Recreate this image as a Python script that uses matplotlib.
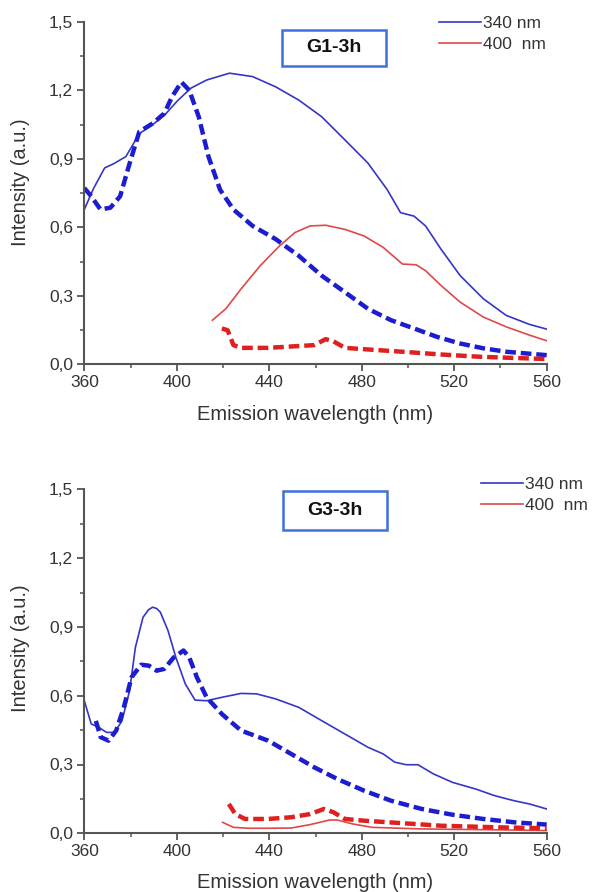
import matplotlib
matplotlib.use("Agg")
import matplotlib.pyplot as plt
from matplotlib.ticker import MultipleLocator, FuncFormatter
from matplotlib.patches import Rectangle

plt.rcParams['font.family'] = ['Liberation Sans', 'DejaVu Sans']

# ---------------- data: G1-3h ----------------
g1_340_x = [360, 364, 368.8, 373, 378, 383.8, 389.6, 394.6, 400.4, 406.2, 412.9, 422.8, 432.8, 442.8,
            452.8, 462.7, 472.7, 482.7, 491, 496.8, 502.6, 507.6, 514.3, 522.6, 532.6, 542.5, 552.5, 560]
g1_340_y = [0.678, 0.77, 0.86, 0.88, 0.91, 1.01, 1.05, 1.09, 1.155, 1.21, 1.245, 1.275, 1.26, 1.215,
            1.157, 1.084, 0.983, 0.881, 0.765, 0.664, 0.649, 0.606, 0.504, 0.388, 0.287, 0.214, 0.175, 0.154]

g1_340d_x = [360, 363, 367, 371.3, 375.5, 379.6, 383.8, 389.6, 394.6, 397.9, 402, 405.4, 409.5, 413.7,
             418.7, 424.5, 432.8, 442.8, 452.8, 462.7, 472.7, 482.7, 492.7, 502.6, 512.6, 522.6,
             532.6, 542.5, 560]
g1_340d_y = [0.772, 0.736, 0.678, 0.686, 0.736, 0.88, 1.019, 1.055, 1.099, 1.171, 1.236, 1.2, 1.084, 0.91,
             0.765, 0.678, 0.606, 0.548, 0.475, 0.388, 0.316, 0.243, 0.193, 0.157, 0.12, 0.091,
             0.07, 0.055, 0.04]

g1_400_x = [415.4, 421.2, 427.8, 436.1, 444.5, 451.1, 457.7, 464.4, 472.7, 481, 489.3, 497.6, 503.5,
            507.6, 514.3, 522.6, 532.6, 542.5, 552.5, 560]
g1_400_y = [0.193, 0.243, 0.33, 0.432, 0.519, 0.577, 0.606, 0.609, 0.591, 0.562, 0.512, 0.439, 0.436,
            0.41, 0.345, 0.272, 0.207, 0.164, 0.128, 0.103]

g1_400d_x = [419.5, 422, 424.5, 427.8, 439.5, 452.8, 459.4, 464.4, 467.7, 472.7, 482.7, 497.6, 514.3,
             531, 560]
g1_400d_y = [0.157, 0.149, 0.084, 0.072, 0.072, 0.08, 0.084, 0.11, 0.101, 0.072, 0.065, 0.055, 0.043,
             0.033, 0.023]

# ---------------- data: G3-3h ----------------
g3_340_x = [360, 363, 366.3, 369.6, 373, 376.3, 379.6, 382.1, 385.4, 387.8, 389.6, 391.3, 392.9, 396.2,
            399.6, 403.7, 407.9, 412.9, 419.5, 427.8, 434.5, 442.8, 452.8, 462.7, 472.7, 482.7, 489.3,
            494.3, 499.3, 504.3, 511, 519.3, 529.3, 537.5, 545.9, 552.5, 560]
g3_340_y = [0.578, 0.477, 0.462, 0.44, 0.44, 0.49, 0.622, 0.811, 0.942, 0.975, 0.986, 0.98, 0.964, 0.884,
            0.767, 0.651, 0.581, 0.578, 0.593, 0.61, 0.608, 0.586, 0.549, 0.491, 0.433, 0.375, 0.346,
            0.31, 0.299, 0.299, 0.259, 0.222, 0.193, 0.164, 0.142, 0.128, 0.106]

g3_340d_x = [365, 367.1, 370.5, 373.8, 377.1, 380.4, 384.6, 387.9, 391.3, 394.6, 398.7, 402.9, 405.4,
             408.7, 412.9, 419.5, 427.8, 439.5, 449.5, 459.4, 469.4, 481, 492.7, 506, 519.3, 532.6,
             545.9, 560]
g3_340d_y = [0.49, 0.419, 0.404, 0.448, 0.549, 0.68, 0.735, 0.731, 0.709, 0.717, 0.767, 0.797, 0.767,
             0.68, 0.593, 0.52, 0.448, 0.404, 0.346, 0.288, 0.237, 0.186, 0.142, 0.106, 0.081, 0.0625,
             0.048, 0.038]

g3_400_x = [419.8, 424.5, 431.2, 439.5, 449.5, 457.7, 466.1, 469.4, 476, 484.4, 506, 539, 560]
g3_400_y = [0.048, 0.026, 0.022, 0.022, 0.023, 0.038, 0.058, 0.058, 0.041, 0.026, 0.019, 0.015, 0.012]

g3_400d_x = [422.5, 425.3, 429.5, 439.5, 449.5, 457.7, 463.6, 467.7, 472.7, 481, 497.6, 514.3, 539, 560]
g3_400d_y = [0.128, 0.084, 0.0625, 0.0625, 0.07, 0.084, 0.106, 0.092, 0.0625, 0.055, 0.044, 0.033,
             0.026, 0.022]

legend_labels = ["340 nm", "400  nm"]
x_ticks = [360, 400, 440, 480, 520, 560]
y_ticks = [0.0, 0.3, 0.6, 0.9, 1.2, 1.5]

BLUE = "#3535c8"
BLUE_D = "#1c1cd0"
RED = "#e04848"
RED_D = "#e02020"
TXT = "#333333"

W, H = 602, 892
fig = plt.figure(figsize=(6.02, 8.92), dpi=100)

AX_L, AX_R = 84.3, 546.7
panels = [
    dict(top=21.8, bot=364.3, name="G1-3h",
         s=(g1_340_x, g1_340_y), sd=(g1_340d_x, g1_340d_y),
         r=(g1_400_x, g1_400_y), rd=(g1_400d_x, g1_400d_y),
         box=(282, 30, 386, 66), leg=(439, 16), xl=414, yl=182),
    dict(top=489.3, bot=833.3, name="G3-3h",
         s=(g3_340_x, g3_340_y), sd=(g3_340d_x, g3_340d_y),
         r=(g3_400_x, g3_400_y), rd=(g3_400d_x, g3_400d_y),
         box=(283, 491, 387, 530), leg=(481, 477), xl=882, yl=648),
]

fmt = FuncFormatter(lambda v, p: ("%.1f" % v).replace(".", ","))

for p in panels:
    ax = fig.add_axes([AX_L/W, 1 - p["bot"]/H, (AX_R-AX_L)/W, (p["bot"]-p["top"])/H])
    l1, = ax.plot(*p["s"], color=BLUE, lw=1.2, label=legend_labels[0])
    ax.plot(*p["sd"], color=BLUE_D, lw=3.2, ls=(0, (2.4, 1.1)))
    l2, = ax.plot(*p["r"], color=RED, lw=1.2, label=legend_labels[1])
    ax.plot(*p["rd"], color=RED_D, lw=3.2, ls=(0, (2.4, 1.1)))
    ax.set_xlim(360, 560)
    ax.set_ylim(0, 1.5)
    ax.set_xticks(x_ticks)
    ax.set_yticks(y_ticks)
    ax.xaxis.set_minor_locator(MultipleLocator(20))
    ax.yaxis.set_minor_locator(MultipleLocator(0.15))
    ax.yaxis.set_major_formatter(fmt)
    for s in ["top", "right"]:
        ax.spines[s].set_visible(False)
    for s in ["left", "bottom"]:
        ax.spines[s].set_linewidth(1.5)
        ax.spines[s].set_color("#555555")
    ax.tick_params(which="major", length=5, width=1.3, color="#555555", labelsize=12.5,
                   labelcolor=TXT, pad=3)
    ax.tick_params(which="minor", length=3, width=1.1, color="#555555")
    fig.text(21/W, 1 - p["yl"]/H, "Intensity (a.u.)", rotation=90, ha="center", va="center",
             fontsize=14.5, color=TXT)
    fig.text((AX_L + AX_R)/2/W, 1 - p["xl"]/H, "Emission wavelength (nm)", ha="center", va="center",
             fontsize=14.5, color=TXT)
    x0, y0, x1, y1 = p["box"]
    fig.patches.append(Rectangle((x0/W, 1 - y1/H), (x1-x0)/W, (y1-y0)/H, transform=fig.transFigure,
                                 fc="white", ec="#3d6fe0", lw=1.8, zorder=5))
    fig.text((x0+x1)/2/W, 1 - (y0+y1)/2/H, p["name"], ha="center", va="center", fontsize=14,
             fontweight="bold", zorder=6, color="#111111")
    lx, ly = p["leg"]
    fig.legend(handles=[l1, l2], loc="upper left", bbox_to_anchor=(lx/W, 1 - ly/H),
               frameon=False, fontsize=12.5, handlelength=2.4, handletextpad=0.15, labelspacing=0.35,
               borderpad=0.0, borderaxespad=0.0, labelcolor=TXT)

fig.savefig("out.png", dpi=100)
